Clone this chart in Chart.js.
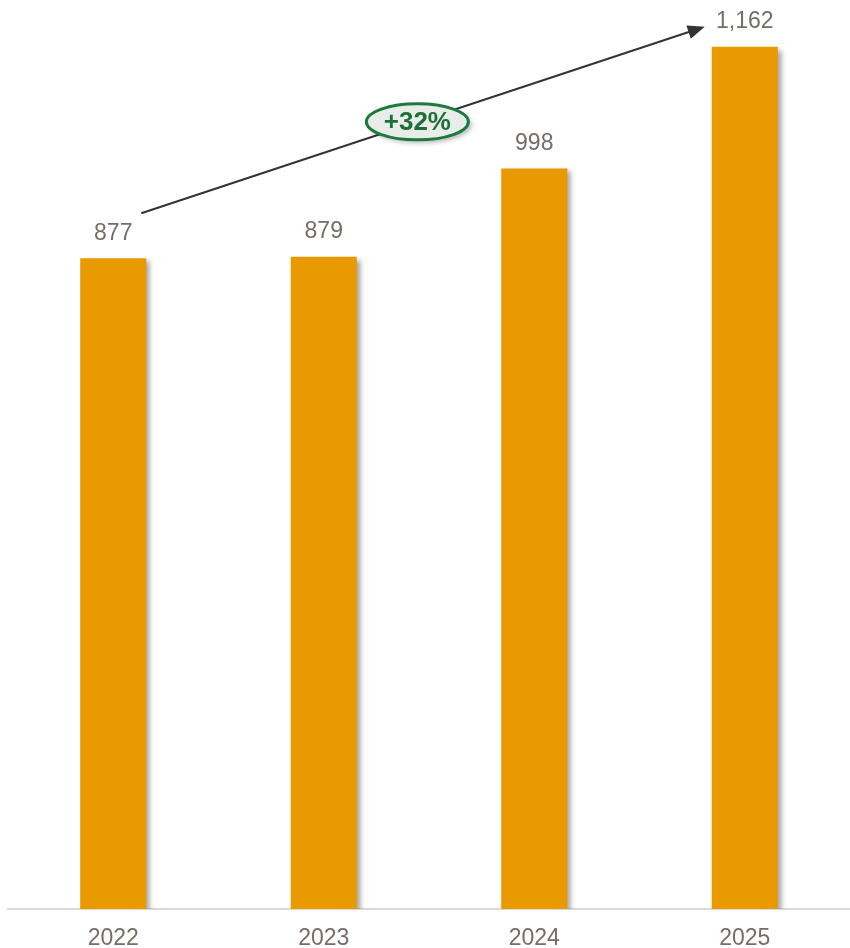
<!DOCTYPE html>
<html>
<head>
<meta charset="utf-8">
<script src="https://cdn.jsdelivr.net/npm/chart.js@4.4.0/dist/chart.umd.min.js"></script>
<style>
  html, body { margin: 0; padding: 0; background: #fff; }
  #wrap { width: 850px; height: 948px; position: relative; }
</style>
</head>
<body>
<div id="wrap"><canvas id="barChart"></canvas></div>
<script>
// datos
var years = ['2022', '2023', '2024', '2025'];
var values = [877, 879, 998, 1162];
var growthLabel = '+32%';

var barColor = '#E99A00';
var textColor = '#766d68';
var fontFam = '"Liberation Sans", Arial, sans-serif';

// sombra de las barras
var shadowPlugin = {
    id: 'barShadow',
    beforeDatasetsDraw: function (chart) {
        var c = chart.ctx;
        c.save();
        c.shadowColor = 'rgba(0,0,0,0.35)';
        c.shadowBlur = 5;
        c.shadowOffsetX = 4;
        c.shadowOffsetY = 3;
    },
    afterDatasetsDraw: function (chart) {
        chart.ctx.restore();
    }
};

// etiquetas de valor + flecha + ovalo
var labelsPlugin = {
    id: 'extras',
    afterDraw: function (chart) {
        var c = chart.ctx;
        var x = chart.scales.x, y = chart.scales.y;
        c.save();
        c.font = '23px ' + fontFam;
        c.fillStyle = textColor;
        c.textAlign = 'center';
        c.textBaseline = 'middle';
        values.forEach(function (v, i) {
            c.fillText(v.toLocaleString('en-US'), x.getPixelForValue(i), y.getPixelForValue(v) - 25);
        });

        // flecha
        var x1 = x.getPixelForValue(0) + 28, y1 = y.getPixelForValue(values[0]) - 45;
        var x2 = x.getPixelForValue(3) - 40, y2 = y.getPixelForValue(values[3]) - 20;
        var ang = Math.atan2(y2 - y1, x2 - x1);
        c.strokeStyle = '#333';
        c.fillStyle = '#333';
        c.lineWidth = 2;
        c.beginPath();
        c.moveTo(x1, y1);
        c.lineTo(x2 - 12 * Math.cos(ang), y2 - 12 * Math.sin(ang));
        c.stroke();
        c.beginPath();
        c.moveTo(x2, y2);
        c.lineTo(x2 - 17 * Math.cos(ang) + 7 * Math.sin(ang), y2 - 17 * Math.sin(ang) - 7 * Math.cos(ang));
        c.lineTo(x2 - 17 * Math.cos(ang) - 7 * Math.sin(ang), y2 - 17 * Math.sin(ang) + 7 * Math.cos(ang));
        c.closePath();
        c.fill();

        // ovalo con el crecimiento
        var t = 0.49;
        var ex = x1 + (x2 - x1) * t, ey = y1 + (y2 - y1) * t;
        c.save();
        c.shadowColor = 'rgba(0,0,0,0.3)';
        c.shadowBlur = 5;
        c.shadowOffsetX = 3;
        c.shadowOffsetY = 3;
        c.beginPath();
        c.ellipse(ex, ey, 51, 18, 0, 0, Math.PI * 2);
        c.fillStyle = '#e8ede9';
        c.fill();
        c.restore();
        c.beginPath();
        c.ellipse(ex, ey, 51, 18, 0, 0, Math.PI * 2);
        c.lineWidth = 3;
        c.strokeStyle = '#1c7a3e';
        c.stroke();
        c.font = 'bold 26px ' + fontFam;
        c.fillStyle = '#1f6f3a';
        c.fillText(growthLabel, ex, ey + 1);
        c.restore();
    }
};

var ctx = document.getElementById('barChart').getContext('2d');
var myChart = new Chart(ctx, {
    type: 'bar',
    data: {
        labels: years,
        datasets: [{
            data: values,
            backgroundColor: barColor,
            borderWidth: 0,
            categoryPercentage: 1,
            barPercentage: 0.314
        }]
    },
    options: {
        responsive: true,
        maintainAspectRatio: false,
        animation: false,
        layout: { padding: { left: 8, right: 0, top: 0, bottom: 0 } },
        plugins: {
            legend: { display: false },
            tooltip: { enabled: false }
        },
        scales: {
            x: {
                grid: { display: false, drawTicks: false },
                border: { display: true, color: '#d9d9d9', width: 2 },
                ticks: {
                    color: textColor,
                    padding: 16,
                    font: { family: fontFam, size: 23 }
                },
                afterFit: function (s) { s.height = 39; }
            },
            y: {
                display: false,
                min: 0,
                max: 1225
            }
        }
    },
    plugins: [shadowPlugin, labelsPlugin]
});
</script>
</body>
</html>
